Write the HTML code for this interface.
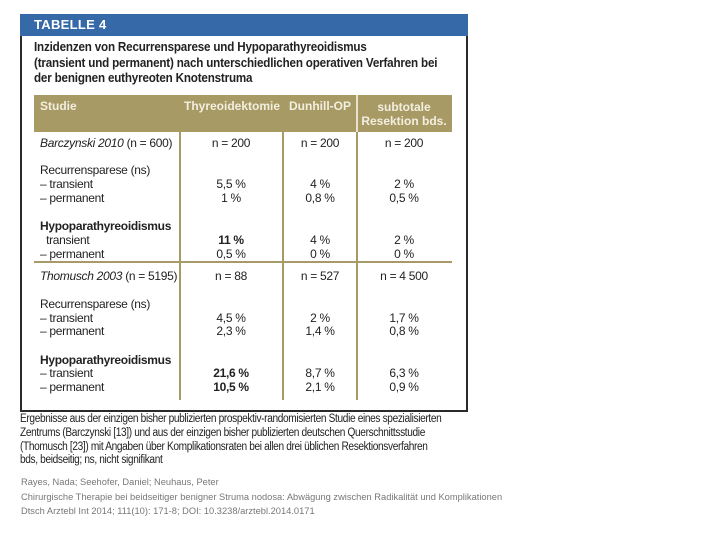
<!DOCTYPE html>
<html><head><meta charset="utf-8"><style>
body{margin:0;width:720px;height:540px;background:#fff;position:relative;font-family:"Liberation Sans",sans-serif;overflow:hidden}
.a{position:absolute;white-space:nowrap}
.t{font-size:12px;color:#222;letter-spacing:-0.3px}
.c{transform:translateX(-50%)}
.b{font-weight:bold}
.i{font-style:italic}
.h{color:#f3efe0;font-weight:bold;font-size:12px}
.cap{font-size:11.5px;color:#222;letter-spacing:-0.4px;transform:scaleX(0.88);transform-origin:0 0}
.f{font-size:9.5px;color:#777;left:21px;transform:scaleX(0.98);transform-origin:0 0}
</style></head><body>
<div class="a" style="left:20px;top:14px;width:444px;height:396px;border:2px solid #2a2a2a;border-top:none"></div>
<div class="a" style="left:20px;top:14px;width:448px;height:22px;background:#3569a8"></div>
<div class="a b" style="left:34px;top:17px;font-size:13px;color:#fff;letter-spacing:0.3px">TABELLE 4</div>
<div class="a b" style="left:34px;top:39px;font-size:13px;line-height:15.5px;color:#222;letter-spacing:-0.2px;transform:scaleX(0.895);transform-origin:0 0">Inzidenzen von Recurrensparese und Hypoparathyreoidismus<br>(transient und permanent) nach unterschiedlichen operativen Verfahren bei<br>der benignen euthyreoten Knotenstruma</div>
<div class="a" style="left:34px;top:95px;width:418px;height:37px;background:#a89a64"></div>
<div class="a" style="left:356px;top:95px;width:2px;height:37px;background:#e8e2cc"></div>
<div class="a h" style="left:40px;top:99px">Studie</div>
<div class="a h c" style="left:232px;top:99px">Thyreoidektomie</div>
<div class="a h c" style="left:320px;top:99px">Dunhill-OP</div>
<div class="a h c" style="left:404px;top:100px;text-align:center;line-height:14px">subtotale<br>Resektion bds.</div>
<div class="a" style="left:179px;top:132px;width:2px;height:268px;background:#a89a64"></div>
<div class="a" style="left:282px;top:132px;width:2px;height:268px;background:#a89a64"></div>
<div class="a" style="left:356px;top:132px;width:2px;height:268px;background:#a89a64"></div>
<div class="a" style="left:34px;top:261px;width:418px;height:2px;background:#a89a64"></div>
<div id="rows"></div>
<div class="a cap" style="left:20px;top:413px;line-height:13.8px">Ergebnisse aus der einzigen bisher publizierten prospektiv-randomisierten Studie eines spezialisierten<br>Zentrums (Barczynski [13]) und aus der einzigen bisher publizierten deutschen Querschnittsstudie<br>(Thomusch [23]) mit Angaben über Komplikationsraten bei allen drei üblichen Resektionsverfahren<br>bds, beidseitig; ns, nicht signifikant</div>
<div class="a f" style="top:477px">Rayes, Nada; Seehofer, Daniel; Neuhaus, Peter</div>
<div class="a f" style="top:492px">Chirurgische Therapie bei beidseitiger benigner Struma nodosa: Abwägung zwischen Radikalität und Komplikationen</div>
<div class="a f" style="top:506px">Dtsch Arztebl Int 2014; 111(10): 171-8; DOI: 10.3238/arztebl.2014.0171</div>
<script>
const rowY=[143,170,184,198,226,240,254,276,304,318,331,360,373,387];
const labels=["<i>Barczynski 2010</i> (n = 600)","Recurrensparese (ns)","– transient","– permanent","<b>Hypoparathyreoidismus</b>","&nbsp;&nbsp;transient","– permanent","<i>Thomusch 2003</i> (n = 5195)","Recurrensparese (ns)","– transient","– permanent","<b>Hypoparathyreoidismus</b>","– transient","– permanent"];
const col2=["n = 200","","5,5 %","1 %","","<b>11 %</b>","0,5 %","n = 88","","4,5 %","2,3 %","","<b>21,6 %</b>","<b>10,5 %</b>"];
const col3=["n = 200","","4 %","0,8 %","","4 %","0 %","n = 527","","2 %","1,4 %","","8,7 %","2,1 %"];
const col4=["n = 200","","2 %","0,5 %","","2 %","0 %","n = 4 500","","1,7 %","0,8 %","","6,3 %","0,9 %"];
const host=document.getElementById('rows');
function cell(html,x,y,center){const d=document.createElement('div');d.className='a t'+(center?' c':'');d.style.left=x+'px';d.style.top=(y-7)+'px';d.innerHTML=html;


host.appendChild(d);}
rowY.forEach((y,i)=>{cell(labels[i],40,y,false);if(col2[i])cell(col2[i],231,y,true);if(col3[i])cell(col3[i],320,y,true);if(col4[i])cell(col4[i],404,y,true);});
</script>
</body></html>
